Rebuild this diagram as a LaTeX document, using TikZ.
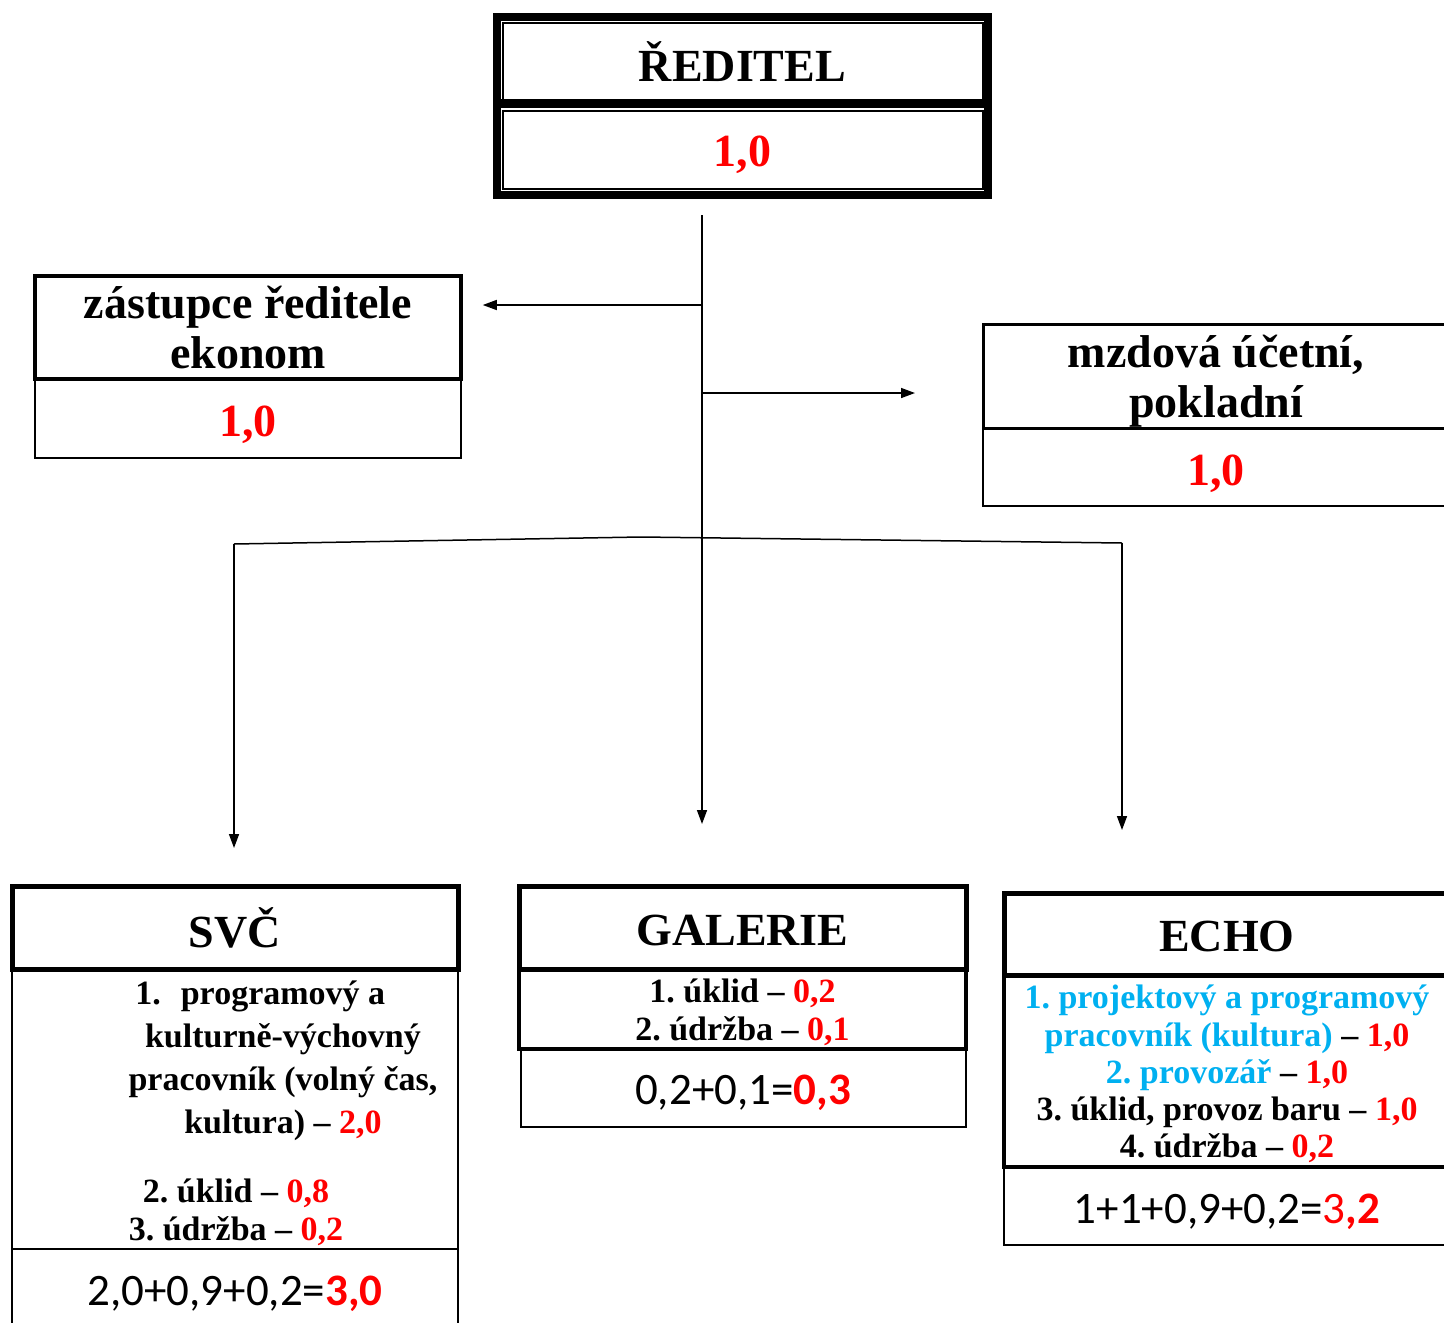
\documentclass[tikz,border=0pt]{standalone}
\usepackage{fontspec}
\setmainfont{Liberation Serif}
\newfontfamily\calibri{Carlito}
\usetikzlibrary{arrows.meta}
\definecolor{modra}{RGB}{0,176,240}
\newcommand{\vz}[1]{\rule{0pt}{#1}}

\begin{document}
\frenchspacing
\begin{tikzpicture}[x=1pt,y=-1pt]
\tikzstyle{hlava}=[draw,line width=5pt,inner sep=0pt,font=\fontsize{46}{54}\selectfont\bfseries]
\tikzstyle{bunka}=[draw,line width=2pt,inner sep=0pt,align=center,font=\fontsize{46}{50}\selectfont\bfseries]
\tikzstyle{seznam}=[inner sep=0pt,align=center,font=\fontsize{34}{38}\selectfont\bfseries]
\tikzstyle{soucet}=[font=\fontsize{45}{54}\selectfont\calibri]
\tikzstyle{sipka}=[line width=1.5pt,-{Triangle[length=14pt,width=10pt]}]
\tikzstyle{cara}=[line width=1.5pt]
\clip (0,0) rectangle (1444,1323);
% reditel
\node[fill=black,minimum width=499pt,minimum height=186pt,inner sep=0pt] (ramec) at (742.5,106) {};
\node[fill=white,minimum width=483pt,minimum height=170pt,inner sep=0pt] (ramecvnitr) at (742.5,106) {};
\node[bunka,minimum width=480pt,minimum height=78pt] (reditel) at (742.5,61.5) {ŘEDITEL};
\node[bunka,minimum width=480pt,minimum height=78pt,text=red] (reditelval) at (742.5,149.5) {\vz{42pt}1,0};
\fill (501,99) rectangle (984,108);
% zastupce a mzdova
\node[bunka,minimum width=426pt,minimum height=79pt,text=red] (zastupceval) at (248,418.5) {\vz{43pt}1,0};
\node[bunka,line width=3.5pt,minimum width=426pt,minimum height=103pt] (zastupce) at (248,327.5) {zástupce ředitele\\ekonom};
\node[bunka,minimum width=466pt,minimum height=78pt,text=red] (mzdovaval) at (1216,467) {\vz{45pt}1,0};
\node[bunka,line width=3pt,minimum width=466pt,minimum height=104pt] (mzdova) at (1216,376) {\vz{42pt}mzdová účetní,\\pokladní};
% SVC
\node[bunka,soucet,minimum width=446pt,minimum height=84pt] (svcsoucet) at (235,1291) {\vz{34.5pt}2,0+0,9+0,2=\textcolor{red}{\bfseries 3,0}};
\node[bunka,minimum width=446pt,minimum height=280pt] (svcseznam) at (235,1109) {};
\node[seznam,font=\fontsize{34}{43}\selectfont\bfseries] (svcprvni) at (283,1060.5) {\llap{1.\hspace{20pt}}programový a\\kulturně-výchovný\\pracovník (volný čas,\\kultura) – \textcolor{red}{2,0}};
\node[seznam] (svcdalsi) at (236,1212.5) {2. úklid – \textcolor{red}{0,8}\\3. údržba – \textcolor{red}{0,2}};
\node[hlava,minimum width=446pt,minimum height=83pt] (svc) at (235,927.5) {SVČ};
% galerie
\node[bunka,soucet,minimum width=445pt,minimum height=78pt] (galeriesoucet) at (743,1088) {\vz{38.5pt}0,2+0,1=\textcolor{red}{\bfseries 0,3}};
\node[bunka,seznam,draw,line width=4pt,minimum width=447pt,minimum height=80pt] (galerieseznam) at (742.5,1009) {\vz{30pt}1. úklid – \textcolor{red}{0,2}\\2. údržba – \textcolor{red}{0,1}};
\node[hlava,minimum width=447pt,minimum height=83pt] (galerie) at (742.5,927.5) {\vz{36.5pt}GALERIE};
% echo
\node[bunka,soucet,minimum width=446pt,minimum height=78pt] (echosoucet) at (1227,1206) {\vz{40.5pt}1+1+0,9+0,2=\textcolor{red}{3{\bfseries ,2}}};
\node[bunka,seznam,draw,line width=4pt,minimum width=446pt,minimum height=192pt,font=\fontsize{34}{37.3}\selectfont\bfseries] (echoseznam) at (1227,1071) {\vz{30pt}\textcolor{modra}{1. projektový a programový}\\\textcolor{modra}{pracovník (kultura)} – \textcolor{red}{1,0}\\\textcolor{modra}{2. provozář} – \textcolor{red}{1,0}\\3. úklid, provoz baru – \textcolor{red}{1,0}\\4. údržba – \textcolor{red}{0,2}};
\node[hlava,minimum width=446pt,minimum height=82pt] (echo) at (1227,934) {\vz{34.5pt}ECHO};
% spojnice
\coordinate (kmen) at (702,215);
\coordinate (odbocka1) at (702,305);
\coordinate (odbocka2) at (702,393);
\coordinate (levy) at (234,544);
\coordinate (stred) at (641,537);
\coordinate (pravy) at (1122,543);
\draw[sipka,shorten >=59.5pt] (kmen) -- (kmen |- galerie.north);
\draw[sipka,shorten >=20pt] (odbocka1) -- (odbocka1 -| zastupce.east);
\draw[sipka,shorten >=66.5pt] (odbocka2) -- (odbocka2 -| mzdova.west);
\draw[cara] (levy) -- (stred) -- (pravy);
\draw[sipka,shorten >=35.5pt] (levy) -- (levy |- svc.north);
\draw[sipka,shorten >=60.5pt] (pravy) -- (pravy |- echo.north);
\end{tikzpicture}
\end{document}
